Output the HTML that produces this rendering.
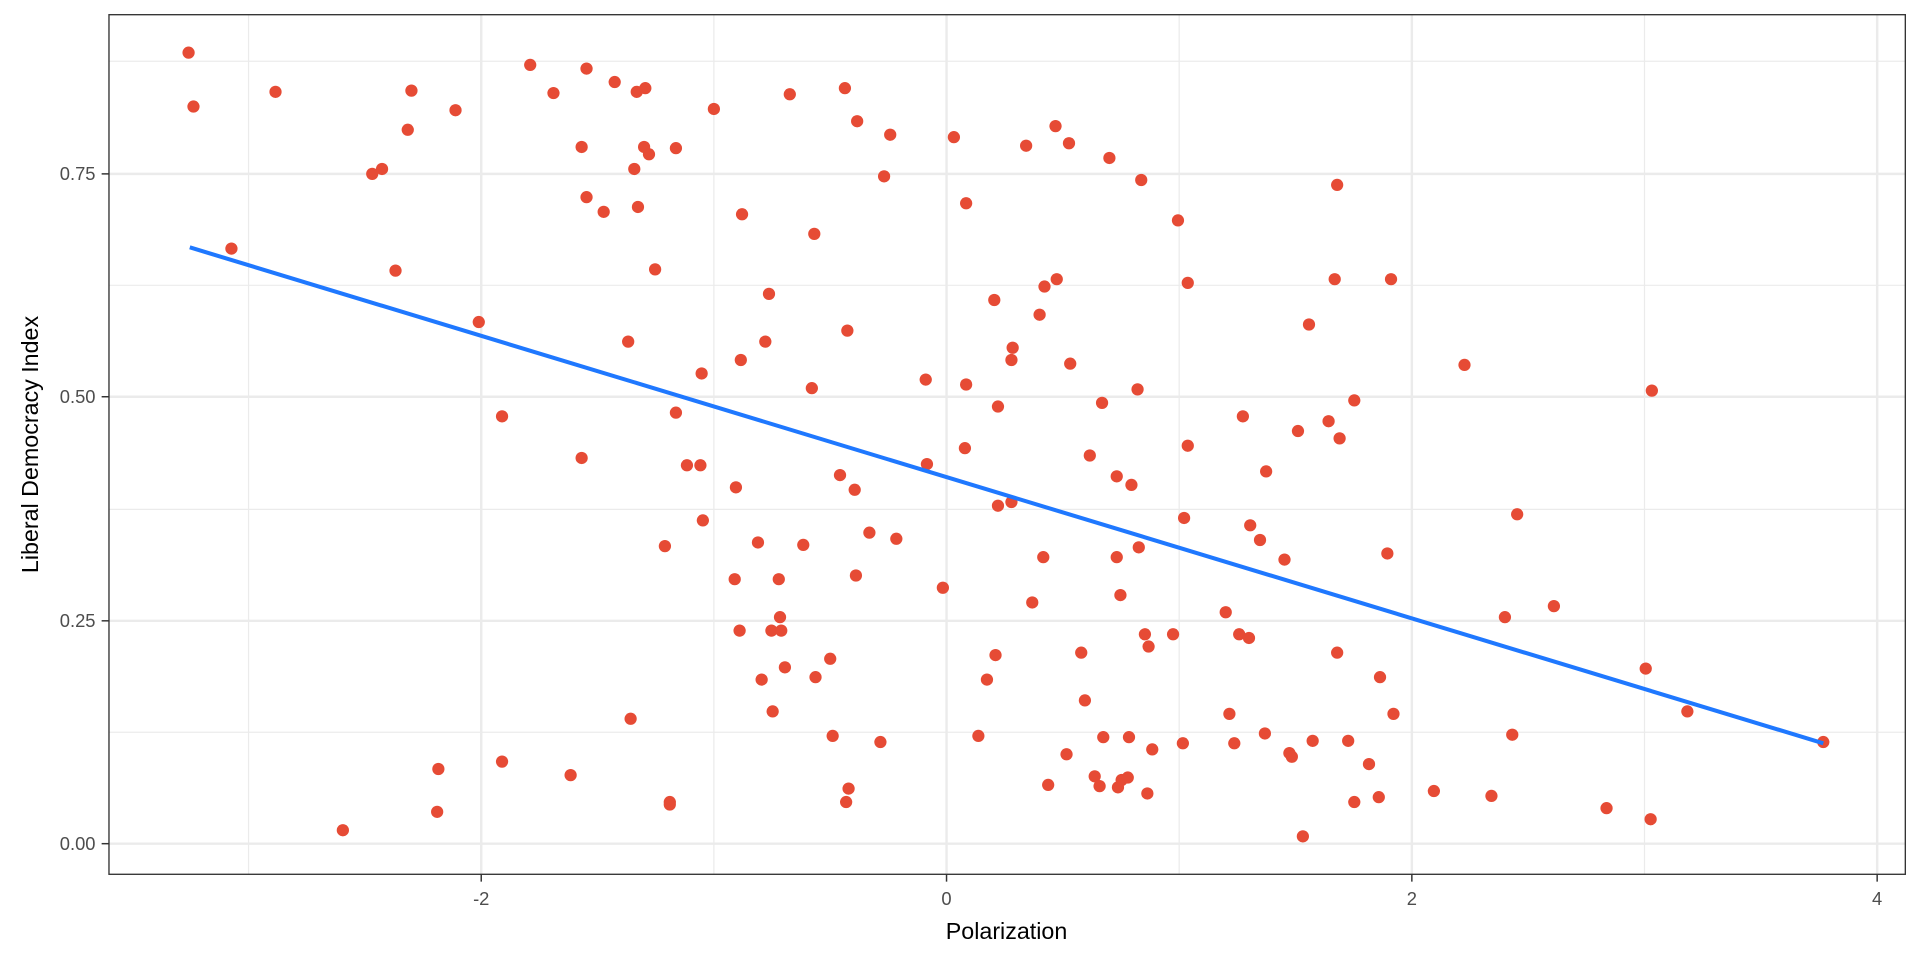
<!DOCTYPE html>
<html><head><meta charset="utf-8"><style>body{margin:0;background:#fff}svg{display:block}</style></head><body>
<svg width="1920" height="960" xmlns="http://www.w3.org/2000/svg" font-family="Liberation Sans, sans-serif">
<rect width="1920" height="960" fill="#fff"/>
<g transform="scale(1.2245)">
<g stroke="#ebebeb" stroke-width="1">
<line x1="203" x2="203" y1="12" y2="714"/><line x1="583" x2="583" y1="12" y2="714"/><line x1="963" x2="963" y1="12" y2="714"/><line x1="1343" x2="1343" y1="12" y2="714"/>
<line x1="89" x2="1556" y1="598" y2="598"/><line x1="89" x2="1556" y1="416" y2="416"/><line x1="89" x2="1556" y1="233" y2="233"/><line x1="89" x2="1556" y1="50" y2="50"/>
</g>
<g stroke="#ebebeb" stroke-width="2">
<line x1="393" x2="393" y1="12" y2="714"/><line x1="773" x2="773" y1="12" y2="714"/><line x1="1153" x2="1153" y1="12" y2="714"/><line x1="1533" x2="1533" y1="12" y2="714"/>
<line x1="89" x2="1556" y1="689" y2="689"/><line x1="89" x2="1556" y1="507" y2="507"/><line x1="89" x2="1556" y1="324" y2="324"/><line x1="89" x2="1556" y1="142" y2="142"/>
</g>
<g fill="#E64B35">
<circle cx="154" cy="43" r="5"/><circle cx="158" cy="87" r="5"/><circle cx="225" cy="75" r="5"/><circle cx="189" cy="203" r="5"/><circle cx="280" cy="678" r="5"/><circle cx="304" cy="142" r="5"/><circle cx="312" cy="138" r="5"/><circle cx="323" cy="221" r="5"/><circle cx="333" cy="106" r="5"/><circle cx="336" cy="74" r="5"/><circle cx="357" cy="663" r="5"/><circle cx="358" cy="628" r="5"/><circle cx="372" cy="90" r="5"/><circle cx="391" cy="263" r="5"/><circle cx="410" cy="340" r="5"/><circle cx="410" cy="622" r="5"/><circle cx="433" cy="53" r="5"/><circle cx="452" cy="76" r="5"/><circle cx="475" cy="120" r="5"/><circle cx="479" cy="56" r="5"/><circle cx="475" cy="374" r="5"/><circle cx="466" cy="633" r="5"/><circle cx="479" cy="161" r="5"/><circle cx="493" cy="173" r="5"/><circle cx="502" cy="67" r="5"/><circle cx="515" cy="587" r="5"/><circle cx="513" cy="279" r="5"/><circle cx="518" cy="138" r="5"/><circle cx="520" cy="75" r="5"/><circle cx="521" cy="169" r="5"/><circle cx="527" cy="72" r="5"/><circle cx="530" cy="126" r="5"/><circle cx="526" cy="120" r="5"/><circle cx="535" cy="220" r="5"/><circle cx="543" cy="446" r="5"/><circle cx="547" cy="655" r="5"/><circle cx="547" cy="657" r="5"/><circle cx="552" cy="121" r="5"/><circle cx="552" cy="337" r="5"/><circle cx="561" cy="380" r="5"/><circle cx="572" cy="380" r="5"/><circle cx="573" cy="305" r="5"/><circle cx="574" cy="425" r="5"/><circle cx="583" cy="89" r="5"/><circle cx="600" cy="473" r="5"/><circle cx="601" cy="398" r="5"/><circle cx="604" cy="515" r="5"/><circle cx="605" cy="294" r="5"/><circle cx="606" cy="175" r="5"/><circle cx="619" cy="443" r="5"/><circle cx="622" cy="555" r="5"/><circle cx="628" cy="240" r="5"/><circle cx="625" cy="279" r="5"/><circle cx="630" cy="515" r="5"/><circle cx="631" cy="581" r="5"/><circle cx="636" cy="473" r="5"/><circle cx="637" cy="504" r="5"/><circle cx="638" cy="515" r="5"/><circle cx="641" cy="545" r="5"/><circle cx="645" cy="77" r="5"/><circle cx="656" cy="445" r="5"/><circle cx="663" cy="317" r="5"/><circle cx="665" cy="191" r="5"/><circle cx="666" cy="553" r="5"/><circle cx="678" cy="538" r="5"/><circle cx="680" cy="601" r="5"/><circle cx="686" cy="388" r="5"/><circle cx="690" cy="72" r="5"/><circle cx="691" cy="655" r="5"/><circle cx="692" cy="270" r="5"/><circle cx="693" cy="644" r="5"/><circle cx="698" cy="400" r="5"/><circle cx="699" cy="470" r="5"/><circle cx="700" cy="99" r="5"/><circle cx="710" cy="435" r="5"/><circle cx="719" cy="606" r="5"/><circle cx="722" cy="144" r="5"/><circle cx="727" cy="110" r="5"/><circle cx="732" cy="440" r="5"/><circle cx="756" cy="310" r="5"/><circle cx="757" cy="379" r="5"/><circle cx="770" cy="480" r="5"/><circle cx="779" cy="112" r="5"/><circle cx="789" cy="166" r="5"/><circle cx="789" cy="314" r="5"/><circle cx="788" cy="366" r="5"/><circle cx="799" cy="601" r="5"/><circle cx="806" cy="555" r="5"/><circle cx="812" cy="245" r="5"/><circle cx="813" cy="535" r="5"/><circle cx="815" cy="413" r="5"/><circle cx="815" cy="332" r="5"/><circle cx="826" cy="410" r="5"/><circle cx="826" cy="294" r="5"/><circle cx="827" cy="284" r="5"/><circle cx="838" cy="119" r="5"/><circle cx="843" cy="492" r="5"/><circle cx="849" cy="257" r="5"/><circle cx="852" cy="455" r="5"/><circle cx="853" cy="234" r="5"/><circle cx="856" cy="641" r="5"/><circle cx="862" cy="103" r="5"/><circle cx="863" cy="228" r="5"/><circle cx="871" cy="616" r="5"/><circle cx="874" cy="297" r="5"/><circle cx="873" cy="117" r="5"/><circle cx="883" cy="533" r="5"/><circle cx="886" cy="572" r="5"/><circle cx="890" cy="372" r="5"/><circle cx="894" cy="634" r="5"/><circle cx="898" cy="642" r="5"/><circle cx="900" cy="329" r="5"/><circle cx="901" cy="602" r="5"/><circle cx="906" cy="129" r="5"/><circle cx="912" cy="455" r="5"/><circle cx="912" cy="389" r="5"/><circle cx="915" cy="486" r="5"/><circle cx="913" cy="643" r="5"/><circle cx="916" cy="637" r="5"/><circle cx="921" cy="635" r="5"/><circle cx="922" cy="602" r="5"/><circle cx="924" cy="396" r="5"/><circle cx="929" cy="318" r="5"/><circle cx="930" cy="447" r="5"/><circle cx="932" cy="147" r="5"/><circle cx="935" cy="518" r="5"/><circle cx="937" cy="648" r="5"/><circle cx="938" cy="528" r="5"/><circle cx="941" cy="612" r="5"/><circle cx="958" cy="518" r="5"/><circle cx="962" cy="180" r="5"/><circle cx="967" cy="423" r="5"/><circle cx="966" cy="607" r="5"/><circle cx="970" cy="364" r="5"/><circle cx="970" cy="231" r="5"/><circle cx="1001" cy="500" r="5"/><circle cx="1004" cy="583" r="5"/><circle cx="1008" cy="607" r="5"/><circle cx="1012" cy="518" r="5"/><circle cx="1020" cy="521" r="5"/><circle cx="1015" cy="340" r="5"/><circle cx="1021" cy="429" r="5"/><circle cx="1029" cy="441" r="5"/><circle cx="1033" cy="599" r="5"/><circle cx="1034" cy="385" r="5"/><circle cx="1049" cy="457" r="5"/><circle cx="1053" cy="615" r="5"/><circle cx="1055" cy="618" r="5"/><circle cx="1060" cy="352" r="5"/><circle cx="1064" cy="683" r="5"/><circle cx="1069" cy="265" r="5"/><circle cx="1072" cy="605" r="5"/><circle cx="1085" cy="344" r="5"/><circle cx="1090" cy="228" r="5"/><circle cx="1092" cy="151" r="5"/><circle cx="1092" cy="533" r="5"/><circle cx="1094" cy="358" r="5"/><circle cx="1101" cy="605" r="5"/><circle cx="1106" cy="327" r="5"/><circle cx="1106" cy="655" r="5"/><circle cx="1118" cy="624" r="5"/><circle cx="1126" cy="651" r="5"/><circle cx="1127" cy="553" r="5"/><circle cx="1133" cy="452" r="5"/><circle cx="1136" cy="228" r="5"/><circle cx="1138" cy="583" r="5"/><circle cx="1171" cy="646" r="5"/><circle cx="1196" cy="298" r="5"/><circle cx="1218" cy="650" r="5"/><circle cx="1229" cy="504" r="5"/><circle cx="1235" cy="600" r="5"/><circle cx="1239" cy="420" r="5"/><circle cx="1269" cy="495" r="5"/><circle cx="1312" cy="660" r="5"/><circle cx="1344" cy="546" r="5"/><circle cx="1349" cy="319" r="5"/><circle cx="1348" cy="669" r="5"/><circle cx="1378" cy="581" r="5"/><circle cx="1489" cy="606" r="5"/>
</g>
<line x1="155" y1="202" x2="1489" y2="607" stroke="#1f78ff" stroke-width="3.3"/>
<rect x="89" y="12" width="1467" height="702" fill="none" stroke="#333" stroke-width="1.1"/>
<g stroke="#333" stroke-width="1.2">
<line x1="393" x2="393" y1="714" y2="720"/><line x1="773" x2="773" y1="714" y2="720"/><line x1="1153" x2="1153" y1="714" y2="720"/><line x1="1533" x2="1533" y1="714" y2="720"/>
<line x1="83" x2="89" y1="689" y2="689"/><line x1="83" x2="89" y1="507" y2="507"/><line x1="83" x2="89" y1="324" y2="324"/><line x1="83" x2="89" y1="142" y2="142"/>
</g>
<g fill="#4d4d4d" font-size="15" text-anchor="middle">
<text x="393" y="739">-2</text><text x="773" y="739">0</text><text x="1153" y="739">2</text><text x="1533" y="739">4</text>
</g>
<g fill="#4d4d4d" font-size="15" text-anchor="end">
<text x="78" y="694">0.00</text><text x="78" y="512">0.25</text><text x="78" y="329">0.50</text><text x="78" y="147">0.75</text>
</g>
<text x="822" y="767" font-size="19" text-anchor="middle" fill="#000">Polarization</text>
<text transform="translate(31,363) rotate(-90)" font-size="19" text-anchor="middle" fill="#000">Liberal Democracy Index</text>
</g>
</svg>
</body></html>
